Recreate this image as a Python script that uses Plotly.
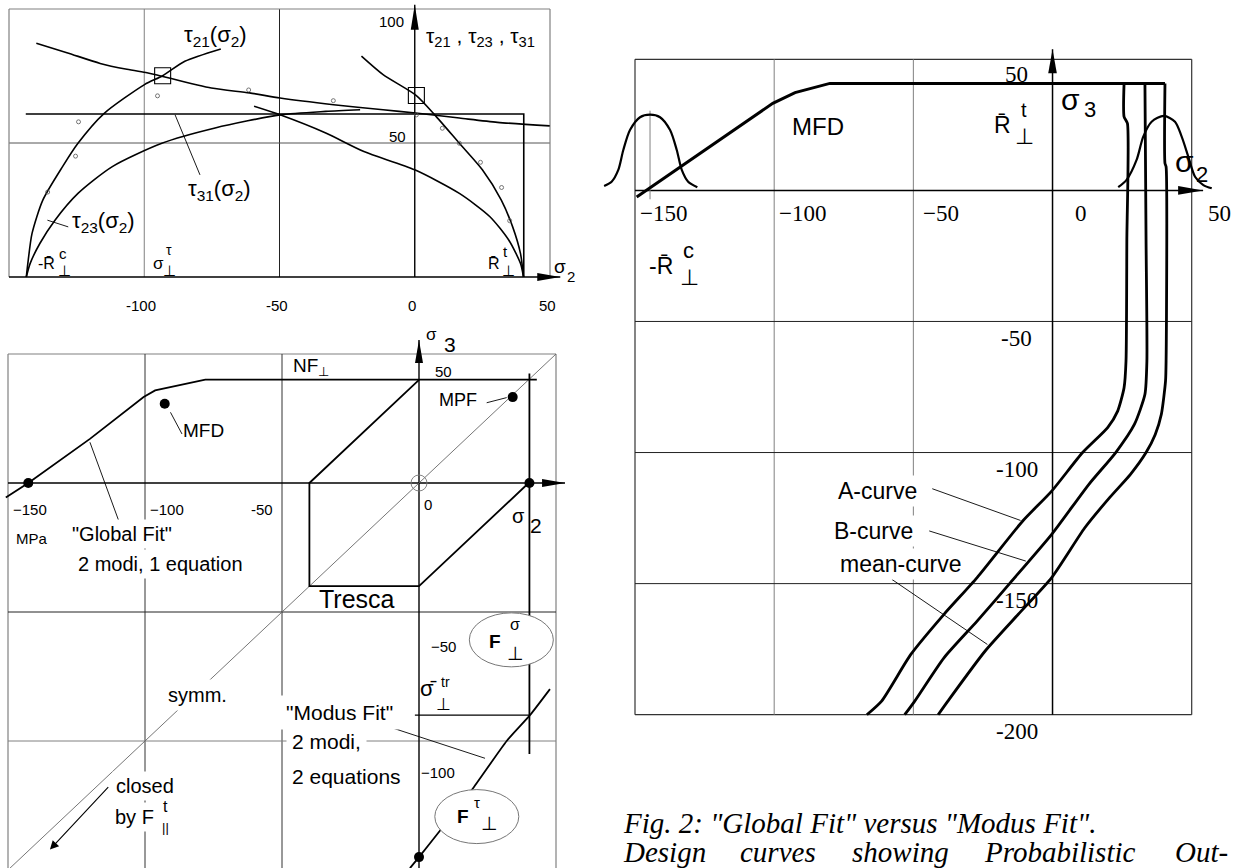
import plotly.graph_objects as go

W, H = 1241, 868
SANS = "Liberation Sans, Arial, sans-serif"
SERIF = "Liberation Serif, Times New Roman, serif"

# ---------------- upper left: shear stresses tau over sigma2 ----------------
tl_rc = -143.8          # -R̄c⊥
tl_rt = 40.3            # R̄t⊥
tl_tau_cut = 60.8       # cut-off level
tau21_c_s2 = [-143.6, -142.9, -141.5, -137.5, -130.2, -124.5, -115.0, -99.9, -93.2, -85.0, -71.7]
tau21_c_t = [0.0, 6.2, 16.2, 28.7, 41.2, 49.9, 60.9, 71.8, 75.1, 80.5, 85.1]
tau21_t_s2 = [-19.7, -11.7, 0.6, 7.3, 16.5, 25.0, 32.0, 36.2, 39.1, 40.2]
tau21_t_t = [82.4, 75.5, 67.7, 60.6, 49.9, 40.0, 28.7, 18.7, 8.7, 0.0]
tau31_s2 = [-139.9, -128.6, -116.3, -106.4, -99.0, -95.3, -75.2, -61.1, -49.8, -30.0, -11.7, 0.3, 16.5, 30.6, 49.9]
tau31_t = [87.2, 83.7, 79.7, 77.5, 76.2, 75.4, 70.5, 68.7, 66.8, 64.3, 62.4, 61.2, 59.3, 57.7, 56.4]
tau23_c_s2 = [-143.6, -142.2, -138.6, -133.0, -124.5, -111.8, -93.5, -73.8, -49.8, -32.9, -20.2]
tau23_c_t = [0.0, 5.0, 12.5, 21.2, 31.2, 41.2, 49.9, 55.6, 60.5, 61.8, 62.4]
tau23_t_s2 = [-59.4, -49.8, -32.9, -18.8, 0.0, 16.5, 27.8, 34.8, 39.1, 40.2]
tau23_t_t = [63.7, 60.5, 53.7, 46.8, 40.0, 31.2, 22.5, 13.7, 5.0, 0.0]
test_s2 = [-95.1, -124.3, -125.4, -135.7, -61.4, -30.1, 0.6, 10.2, 16.5, 24.3, 32.1, 35.1]
test_t = [67.6, 57.9, 45.1, 31.7, 69.8, 65.8, 60.5, 55.5, 49.9, 42.8, 33.4, 21.0]
box_s2 = [-93.2, 0.6]
box_t = [75.1, 67.7]
tl_xticks = [-100, -50, 0, 50]

# ---------------- lower left: fracture curve sigma2-sigma3 ----------------
bl_rt = 40.3
global_s2 = [-150.8, -142.6, -120.1, -100.5, -96.3, -90.7, -78.0, 43.0]
global_s3 = [-5.6, 0.0, 17.1, 33.3, 35.9, 37.2, 40.1, 40.1]
tresca_s2 = [0.0, -40.0, -40.0, 0.0, 40.0]
tresca_s3 = [40.0, 0.0, -40.0, -40.0, 0.0]
tension_cut_s3 = [42.4, -105.0]
modus_s2 = [-3.3, 0.0, 7.7, 19.8, 32.0, 40.5, 47.8]
modus_s3 = [-149.3, -145.0, -134.7, -118.2, -100.0, -90.0, -79.9]
sigma_tr = -90.0
dots_s2 = [-142.6, 40.3, 34.2, -92.8, 0.0]
dots_s3 = [0.0, 0.0, 33.3, 30.7, -145.0]
bl_xticks = ["−150", "−100", "-50", "0"]

# ---------------- right: design curves ----------------
r_rc = -144.6
design_s2 = [-149.4, -100.5, -92.5, -80.0, 40.4]
design_s3 = [-2.5, 33.2, 37.3, 40.8, 40.8]
a_s2 = [25.7, 25.7, 26.9, 26.7, 26.4, 25.7, 23.4, 19.8, 10.8, -0.3, -10.7, -27.1, -39.0, -50.9, -61.4, -66.7]
a_s3 = [40.8, 28.1, 25.6, -18.9, -65.1, -75.3, -84.2, -90.5, -100.0, -114.7, -126.1, -147.7, -161.7, -177.0, -194.8, -200.0]
b_s2 = [33.2, 33.6, 33.9, 33.2, 29.4, 22.7, 13.0, -0.3, -15.2, -27.1, -39.0, -49.5, -53.1]
b_s3 = [40.8, -18.9, -65.1, -77.8, -89.3, -100.0, -112.2, -131.2, -149.7, -164.3, -178.3, -194.8, -200.0]
mean_s2 = [40.4, 40.4, 40.8, 40.8, 40.6, 39.1, 36.9, 33.6, 28.0, 20.5, 11.6, -0.3, -12.3, -24.2, -37.6, -41.1]
mean_s3 = [40.8, 10.3, 9.0, -65.1, -72.7, -85.4, -93.1, -100.0, -108.3, -117.2, -128.7, -147.7, -161.7, -175.7, -194.8, -200.0]
pdf_c_s2 = [-161.1, -158.4, -156.0, -154.2, -151.8, -148.2, -144.6, -141.0, -137.4, -135.0, -133.2, -130.9, -127.6]
pdf_c_s3 = [1.7, 3.3, 7.8, 15.4, 23.0, 27.9, 28.9, 27.9, 23.0, 15.4, 7.8, 3.3, 1.2]
pdf_t_s2 = [23.6, 26.6, 30.2, 32.6, 35.6, 40.0, 44.0, 46.4, 48.8, 51.2, 54.2, 57.2]
pdf_t_s3 = [1.2, 4.0, 11.6, 20.5, 26.2, 28.4, 26.2, 20.5, 12.8, 5.2, 2.0, 0.8]
r_xticks = [-150, -100, -50, 0, 50]
r_yticks = [50, -50, -100, -150, -200]

fig = go.Figure()
shapes = []
notes = []

P1, P2, P3 = ("x", "y"), ("x2", "y2"), ("x3", "y3")


def curve(p, xs, ys, width=1.6, color="black", spline=True, smoothing=0.7):
    line = dict(color=color, width=width)
    if spline:
        line.update(shape="spline", smoothing=smoothing)
    fig.add_trace(go.Scatter(x=xs, y=ys, mode="lines", xaxis=p[0], yaxis=p[1],
                             line=line, hoverinfo="skip", showlegend=False))


def seg(p, x0, y0, x1, y1, color="black", width=1.0, layer="below"):
    shapes.append(dict(type="line", xref=p[0], yref=p[1], x0=x0, y0=y0, x1=x1, y1=y1,
                       line=dict(color=color, width=width), layer=layer))


def arrowhead(p, xv, yv, up, length=24, half=4.2):
    if up:
        path = f"M{-half},{-length} L{half},{-length} L0,0 Z"
    else:
        path = f"M{-length},{-half} L{-length},{half} L0,0 Z"
    shapes.append(dict(type="path", xref=p[0], yref=p[1], xsizemode="pixel", ysizemode="pixel",
                       xanchor=xv, yanchor=yv, path=path, fillcolor="black",
                       line=dict(width=0), layer="above"))


def pix_ellipse(p, cx, cy, rx, ry, color="#666", fill="rgba(0,0,0,0)", width=1.0, kind="circle"):
    shapes.append(dict(type=kind, xref=p[0], yref=p[1], xsizemode="pixel", ysizemode="pixel",
                       xanchor=cx, yanchor=cy, x0=-rx, x1=rx, y0=-ry, y1=ry,
                       fillcolor=fill, line=dict(color=color, width=width), layer="above"))


def txt(p, x, y, s, size, family=SANS, bg=None, pad=1, xanchor="center", xshift=0, yshift=0, color="black"):
    d = dict(xref=p[0], yref=p[1], x=x, y=y, text=s, showarrow=False,
             font=dict(family=family, size=size, color=color),
             xanchor=xanchor, yanchor="middle", xshift=xshift, yshift=yshift, borderpad=pad)
    if bg:
        d["bgcolor"] = bg
    notes.append(d)


# ======== upper left panel ========
GRAY = "#808080"
for v, c in [(-100, GRAY), (-50, "#222")]:
    seg(P1, v, 0, v, 100, c)
seg(P1, -150, 50, 50, 50, "#555")
seg(P1, -150, 100, 50, 100, GRAY, 1.2)
seg(P1, -150, 0, -150, 100, GRAY, 1.2)
seg(P1, 50, 0, 50, 100, GRAY, 1.2)
seg(P1, 0, 0, 0, 101.6, "black", 1.4)
seg(P1, -150, 0, 53.8, 0, "black", 1.6)
arrowhead(P1, 0, 101.6, True, 25, 4)
arrowhead(P1, 53.8, 0, False, 23, 4)

curve(P1, [tl_rc, tl_rt, tl_rt], [tl_tau_cut, tl_tau_cut, 0], 1.6, spline=False)
curve(P1, tau21_c_s2, tau21_c_t)
curve(P1, tau21_t_s2, tau21_t_t)
curve(P1, tau31_s2, tau31_t)
curve(P1, tau23_c_s2, tau23_c_t)
curve(P1, tau23_t_s2, tau23_t_t)
fig.add_trace(go.Scatter(x=test_s2, y=test_t, mode="markers", xaxis="x", yaxis="y",
                         marker=dict(symbol="circle-open", size=4, color="#555", line=dict(width=0.8)),
                         hoverinfo="skip", showlegend=False))
for bx, bt in zip(box_s2, box_t):
    pix_ellipse(P1, bx, bt, 8, 8, color="black", width=1.1, kind="rect")

seg(P1, -79.4, 38.1, -88.6, 60.5, "black", 0.9)
seg(P1, -135.8, 21.2, -128.1, 18.7, "black", 0.9)

for t in tl_xticks:
    txt(P1, t, -10.6, f"{t}", 15, xshift=-3)
txt(P1, -8.6, 95.5, "100", 15)
txt(P1, -6.5, 52.4, "50", 15)
txt(P1, 3.5, 89.5, "τ<sub>21</sub> , τ<sub>23</sub> , τ<sub>31</sub>", 21, xanchor="left")
txt(P1, -73.8, 89.9, "τ<sub>21</sub>(σ<sub>2</sub>)", 22)
txt(P1, -72.1, 32.5, "τ<sub>31</sub>(σ<sub>2</sub>)", 22)
txt(P1, -115.0, 20.6, "τ<sub>23</sub>(σ<sub>2</sub>)", 22)
txt(P1, -136.1, 5.0, "-R\u0304", 16)
txt(P1, -130.2, 8.6, "c", 15)
txt(P1, -129.5, 2.6, "⊥", 15)
txt(P1, -94.9, 5.0, "σ", 17)
txt(P1, -90.7, 10.2, "τ", 14)
txt(P1, -90.7, 2.6, "⊥", 15)
txt(P1, 29.2, 5.0, "R\u0304", 16)
txt(P1, 33.4, 9.4, "t", 15)
txt(P1, 34.8, 2.6, "⊥", 15)
txt(P1, 53.8, 3.8, "σ", 19)
txt(P1, 57.9, 0.1, "2", 15)

# ======== lower left panel ========
seg(P2, -150, 50, 50, 50, GRAY, 1.2)
seg(P2, -150, -150, -150, 50, GRAY, 1.2)
seg(P2, 50, -150, 50, 50, GRAY, 1.2)
seg(P2, -100, -150, -100, 50, "#333")
seg(P2, -50, -150, -50, 50, "#333")
seg(P2, -150, -50, 50, -50, "#222")
seg(P2, -150, -100, 50, -100, GRAY)
seg(P2, 0, -150, 0, 55.4, "black", 1.4)
seg(P2, -150, 0, 53.3, 0, "black", 1.4)
arrowhead(P2, 0, 55.4, True, 23, 4)
arrowhead(P2, 53.3, 0, False, 23, 4)
pix_ellipse(P2, 0, 0, 8, 8, color="#777", width=0.9)

curve(P2, [50, -150], [50, -150], 0.9, color="#666", spline=False)
curve(P2, global_s2, global_s3, 1.8, spline=False)
curve(P2, tresca_s2, tresca_s3, 1.8, spline=False)
curve(P2, [bl_rt, bl_rt], tension_cut_s3, 1.8, spline=False)
curve(P2, [-1.5, bl_rt], [sigma_tr, sigma_tr], 1.3, spline=False)
curve(P2, modus_s2, modus_s3, 1.8, smoothing=0.5)
fig.add_trace(go.Scatter(x=dots_s2, y=dots_s3, mode="markers", xaxis="x2", yaxis="y2",
                         marker=dict(size=10, color="black"), hoverinfo="skip", showlegend=False))

seg(P2, -90.7, 27.4, -86.5, 19.0, "black", 0.9)
seg(P2, 24.7, 31.1, 32.0, 33.1, "black", 0.9)
seg(P2, -120.1, 15.8, -109.6, -14.6, "black", 0.9)
seg(P2, -13.0, -93.8, 24.1, -106.7, "black", 0.9)

pix_ellipse(P2, 33.7, -60.8, 42, 27, color="#777", fill="white")
pix_ellipse(P2, 21.1, -129.3, 42, 27, color="#777", fill="white")

for lab, x in zip(bl_xticks, [-142.0, -92.0, -57.3, 3.3]):
    txt(P2, x, -10.1 if lab != "0" else -8.5, lab, 15)
txt(P2, -141.2, -21.7, "MPa", 15)
txt(P2, 8.8, 43.4, "50", 15)
txt(P2, 8.8, -63.2, "−50", 15)
txt(P2, 6.9, -112.4, "−100", 15)
txt(P2, 4.6, 57.4, "σ", 17)
txt(P2, 11.3, 53.5, "3", 21)
txt(P2, 36.4, -12.7, "σ", 20)
txt(P2, 42.7, -16.3, "2", 21)
txt(P2, -39.5, 44.8, "NF<sub>⊥</sub>", 19)
txt(P2, -78.5, 20.3, "MFD", 19)
txt(P2, 14.4, 32.2, "MPF", 18)
txt(P2, -22.6, -45.0, "Tresca", 25)
txt(P2, -108.3, -19.8, "\"Global Fit\"", 20, bg="white", pad=3)
txt(P2, -94.2, -31.4, "2 modi, 1 equation", 20, bg="white", pad=3)
txt(P2, -29.0, -88.8, "\"Modus Fit\"", 21, bg="white", pad=5)
txt(P2, -33.9, -100.0, "2 modi,", 21, bg="white", pad=5)
txt(P2, -26.3, -113.6, "2 equations", 21, bg="white", pad=5)
txt(P2, -80.7, -82.0, "symm.", 20, bg="white", pad=4)
txt(P2, -100.0, -117.4, "closed", 20, bg="white", pad=3)
txt(P2, -103.8, -129.5, "by F", 20, bg="white", pad=3)
txt(P2, -92.6, -125.2, "t", 16)
txt(P2, -92.7, -133.7, "||", 13)
txt(P2, 3.4, -79.6, "σ\u0304", 22)
txt(P2, 9.5, -77.0, "tr", 14)
txt(P2, 8.9, -86.0, "⊥", 17)
txt(P2, 27.6, -61.4, "<b>F</b>", 19)
txt(P2, 35.0, -54.9, "σ", 16)
txt(P2, 35.2, -66.0, "⊥", 19)
txt(P2, 16.1, -129.4, "<b>F</b>", 19)
txt(P2, 21.1, -124.0, "τ", 15)
txt(P2, 25.9, -132.1, "⊥", 19)
notes.append(dict(xref="x2", yref="y2", x=-134.7, y=-142.1, ax=-112.9, ay=-117.3,
                  axref="x2", ayref="y2", text="", showarrow=True, arrowhead=2,
                  arrowsize=1.6, arrowwidth=1.1, arrowcolor="black"))

# ======== right panel ========
seg(P3, -150, 50, 50, 50, "#333", 1.2)
seg(P3, -150, -200, 50, -200, "#333", 1.2)
seg(P3, -150, -200, -150, 50, "#333", 1.2)
seg(P3, 50, -200, 50, 50, "#333", 1.2)
for v in [-100, -50]:
    seg(P3, v, -200, v, 50, GRAY)
for v in [-50, -100, -150]:
    seg(P3, -150, v, 50, v, "#222")
seg(P3, 0, -200, 0, 53.8, "black", 1.5)
seg(P3, -150, 0, 54.1, 0, "black", 1.5)
seg(P3, r_rc, -3.4, r_rc, 30.4, GRAY)
arrowhead(P3, 0, 53.8, True, 24, 4.3)
arrowhead(P3, 54.1, 0, False, 25, 4.3)

curve(P3, design_s2, design_s3, 3.0, spline=False)
curve(P3, a_s2, a_s3, 2.8, smoothing=0.6)
curve(P3, b_s2, b_s3, 2.8, smoothing=0.6)
curve(P3, mean_s2, mean_s3, 2.8, smoothing=0.6)
curve(P3, pdf_c_s2, pdf_c_s3, 2.2, smoothing=0.8)
curve(P3, pdf_t_s2, pdf_t_s3, 2.2, smoothing=0.8)

seg(P3, -43.2, -113.8, -11.5, -125.9, "black", 0.9)
seg(P3, -44.3, -129.9, -9.6, -141.4, "black", 0.9)
seg(P3, -57.7, -148.4, -23.4, -173.2, "black", 0.9)

for t in r_xticks:
    txt(P3, t, -8.8, f"{t}".replace("-", "−"), 23, family=SERIF, xshift=28)
for t in r_yticks:
    txt(P3, 0, t, f"{t}", 23, family=SERIF, xshift=-36, yshift=-17 if t != 50 else -15)
txt(P3, -84.3, 24.3, "MFD", 24)
txt(P3, -17.8, 24.9, "R\u0304", 23)
txt(P3, -10.4, 30.7, "t", 20)
txt(P3, -9.9, 20.5, "⊥", 22)
txt(P3, 6.5, 34.8, "σ", 30)
txt(P3, 13.5, 30.9, "3", 22)
txt(P3, 47.3, 10.9, "σ", 30)
txt(P3, 53.6, 5.9, "2", 22)
txt(P3, -140.5, -28.9, "-R\u0304", 23)
txt(P3, -130.8, -23.1, "c", 22)
txt(P3, -130.4, -33.2, "⊥", 22)
txt(P3, -62.8, -114.7, "A-curve", 23, bg="white", pad=2)
txt(P3, -64.4, -129.9, "B-curve", 23, bg="white", pad=2)
txt(P3, -54.7, -142.7, "mean-curve", 23, bg="white", pad=2)

# ======== caption ========
cap_font = dict(family=SERIF, size=29, color="black")
notes.append(dict(xref="paper", yref="paper", x=621 / W, y=1 - 823 / H, xanchor="left", yanchor="middle",
                  text="<i>Fig. 2: \"Global Fit\" versus \"Modus Fit\".</i>", showarrow=False, font=cap_font))
for word, px in [("Design", 621), ("curves", 738), ("showing", 850), ("Probabilistic", 982), ("Out-", 1173)]:
    notes.append(dict(xref="paper", yref="paper", x=px / W, y=1 - 852 / H, xanchor="left", yanchor="middle",
                      text=f"<i>{word}</i>", showarrow=False, font=cap_font))


# ======== axes geometry ========
def lin_range(va, pa, vb, pb, plo, phi):
    k = (pb - pa) / (vb - va)
    return [va + (plo - pa) / k, va + (phi - pa) / k]


def place(name_x, name_y, px, py, xmap, ymap):
    ax = dict(visible=False, domain=[px[0] / W, px[1] / W],
              range=lin_range(*xmap, px[0], px[1]), fixedrange=True)
    ay = dict(visible=False, domain=[1 - py[1] / H, 1 - py[0] / H],
              range=lin_range(*ymap, py[1], py[0]), fixedrange=True)
    return {name_x: ax, name_y: ay}


axes = {}
axes.update(place("xaxis", "yaxis", (0, 585), (0, 318), (-150, 9, 50, 550), (100, 9, 0, 277)))
axes.update(place("xaxis2", "yaxis2", (0, 585), (322, 868), (-150, 8, 50, 556), (50, 354, 0, 483)))
axes.update(place("xaxis3", "yaxis3", (590, 1241), (0, 790), (-150, 635, 50, 1191.7), (50, 59.3, -200, 714.7)))
axes["yaxis2"]["anchor"] = "x2"
axes["xaxis2"]["anchor"] = "y2"
axes["yaxis3"]["anchor"] = "x3"
axes["xaxis3"]["anchor"] = "y3"

fig.update_layout(
    width=W, height=H, autosize=False,
    margin=dict(l=0, r=0, t=0, b=0),
    paper_bgcolor="white", plot_bgcolor="rgba(0,0,0,0)",
    shapes=shapes, annotations=notes, showlegend=False,
    **axes,
)
fig.write_html("out.html", config={"displayModeBar": False})
